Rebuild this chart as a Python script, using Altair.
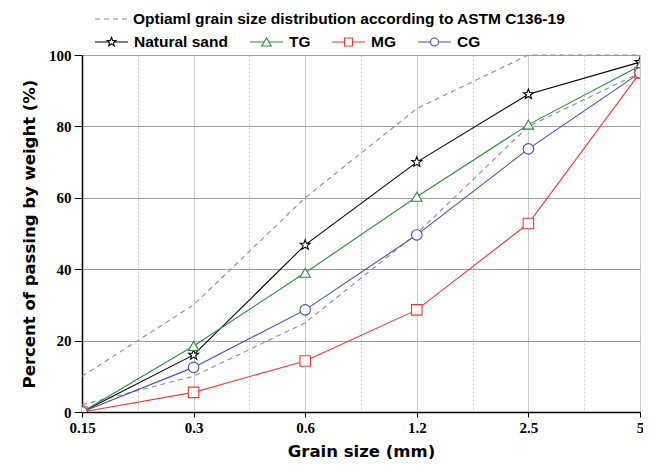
import json
import numpy as np
import pandas as pd
import altair as alt

# ---- data ----
sizes = ["0.15", "0.3", "0.6", "1.2", "2.5", "5"]
astm_upper = [10, 30, 60, 85, 100, 100]
astm_lower = [2, 10, 25, 50, 80, 95]
natural_sand = [0, 16, 46.8, 70, 89, 98]
tg = [0, 18.5, 39, 60.3, 80.5, 97]
mg = [0, 5.5, 14.3, 28.6, 52.8, 95]
cg = [0, 12.5, 28.6, 49.6, 73.7, 95]

series_names = ["Natural sand", "TG", "MG", "CG"]
series_values = [natural_sand, tg, mg, cg]
series_colors = ["#000000", "#2e8b3e", "#ff3333", "#3f4fb5"]

# star symbol path
pts = []
for k in range(10):
    r = 1.0 if k % 2 == 0 else 0.42
    a = np.deg2rad(-90 + 36 * k)
    pts.append(f"{r*np.cos(a):.3f},{r*np.sin(a):.3f}")
star = "M" + "L".join(pts) + "Z"
series_shapes = [star, "triangle-up", "square", "circle"]
series_sizes = [110, 110, 80, 80]

rows = []
for name, vals in zip(series_names, series_values):
    for i, v in enumerate(vals):
        rows.append({"series": name, "idx": i, "value": v})
df = pd.DataFrame(rows)

astm_rows = []
for lim, vals in (("upper", astm_upper), ("lower", astm_lower)):
    for i, v in enumerate(vals):
        astm_rows.append({"limit": lim, "idx": i, "value": v})
astm_df = pd.DataFrame(astm_rows)

TICK_FONT = "Liberation Serif"
TITLE_FONT = "DejaVu Sans"

label_expr = "datum.value % 1 == 0 ? " + json.dumps(sizes) + "[datum.value] : ''"

x_enc = alt.X(
    "idx:Q",
    scale=alt.Scale(domain=[0, 5], nice=False, zero=False),
    axis=alt.Axis(
        title="Grain size (mm)",
        values=[i * 0.5 for i in range(11)],
        labelExpr=label_expr,
        labelOverlap=False,
        labelFlush=False,
        labelFont=TICK_FONT, labelFontSize=15, labelFontWeight="bold", labelColor="#000",
        labelPadding=3,
        titleFont=TITLE_FONT, titleFontSize=16.5, titleFontWeight="bold", titleColor="#000",
        titlePadding=8,
        domainColor="#000", domainWidth=1.5,
        tickColor="#000",
        tickSize={"condition": {"test": "datum.value % 1 != 0", "value": 0}, "value": 5},
        gridColor="#c8c8c8",
        gridDash={"condition": {"test": "datum.value % 1 != 0", "value": [2, 2]}, "value": []},
    ),
)
y_enc = alt.Y(
    "value:Q",
    scale=alt.Scale(domain=[0, 100], nice=False),
    axis=alt.Axis(
        title="Percent of passing by weight (%)",
        values=list(range(0, 101, 10)),
        labelExpr="datum.value % 20 == 0 ? datum.label : ''",
        labelOverlap=False,
        labelFont=TICK_FONT, labelFontSize=15, labelFontWeight="bold", labelColor="#000",
        labelPadding=3,
        titleFont=TITLE_FONT, titleFontSize=16.5, titleFontWeight="bold", titleColor="#000",
        titlePadding=11,
        domainColor="#000", domainWidth=1.5,
        tickColor="#000",
        tickSize={"condition": {"test": "datum.value % 20 != 0", "value": 0}, "value": 8},
        gridColor={"condition": {"test": "datum.value % 20 != 0", "value": "#c8c8c8"}, "value": "#a0a0a0"},
        gridDash={"condition": {"test": "datum.value % 20 != 0", "value": [2, 2]}, "value": []},
    ),
)

color_scale = alt.Scale(domain=series_names, range=series_colors)
shape_scale = alt.Scale(domain=series_names, range=series_shapes)

astm_layer = alt.Chart(astm_df).mark_line(
    color="#8c8c8c", strokeDash=[5, 4], strokeWidth=1.1
).encode(x=x_enc, y=y_enc, detail="limit:N")

lines = alt.Chart(df).mark_line(strokeWidth=1.1).encode(
    x="idx:Q", y="value:Q",
    color=alt.Color("series:N", scale=color_scale, legend=None),
    detail="series:N",
)
points = alt.Chart(df).mark_point(filled=False, fill="white", fillOpacity=1, strokeWidth=1.1,
                                  opacity=1, clip=True).encode(
    x="idx:Q", y="value:Q",
    color=alt.Color("series:N", scale=color_scale, legend=None),
    shape=alt.Shape("series:N", scale=shape_scale, legend=None),
    size=alt.Size("series:N", scale=alt.Scale(domain=series_names, range=series_sizes), legend=None),
)

# ---- custom legend (above plot area) ----
LEG_FONT = "Liberation Sans"
legend_layers = []
one = pd.DataFrame({"k": [0]})
# row 1: ASTM
legend_layers.append(alt.Chart(one).mark_rule(color="#8c8c8c", strokeDash=[5, 4], strokeWidth=1.1).encode(
    x=alt.value(13), x2=alt.value(46), y=alt.value(-36)))
legend_layers.append(alt.Chart(pd.DataFrame({"t": ["Optiaml grain size distribution according to ASTM C136-19"]})).mark_text(
    align="left", baseline="middle", font=LEG_FONT, fontSize=15.5, fontWeight="bold", color="#000").encode(
    x=alt.value(51), y=alt.value(-36), text="t:N"))
# row 2
leg_x = [13, 168, 250, 336]
for name, col, shp, sz, x0 in zip(series_names, series_colors, series_shapes, series_sizes, leg_x):
    legend_layers.append(alt.Chart(one).mark_rule(color=col, strokeWidth=1.1).encode(
        x=alt.value(x0), x2=alt.value(x0 + 33), y=alt.value(-13)))
    legend_layers.append(alt.Chart(one).mark_point(shape=shp, size=sz * 0.8, color=col, fill="white",
                                                   filled=False, fillOpacity=1, opacity=1, strokeWidth=1.1).encode(
        x=alt.value(x0 + 16.5), y=alt.value(-13)))
    legend_layers.append(alt.Chart(pd.DataFrame({"t": [name]})).mark_text(
        align="left", baseline="middle", font=LEG_FONT, fontSize=15.5, fontWeight="bold", color="#000").encode(
        x=alt.value(x0 + 39), y=alt.value(-13), text="t:N"))

chart = alt.layer(astm_layer, lines, points, *legend_layers).properties(
    width=558, height=357,
    padding={"left": 74, "top": 47, "right": 3, "bottom": 47},
    autosize=alt.AutoSizeParams(type="none"),
).configure_view(stroke="#000", strokeWidth=1.5).configure(background="white")

chart.save("out.html", embed_options={"renderer": "svg", "actions": False})
